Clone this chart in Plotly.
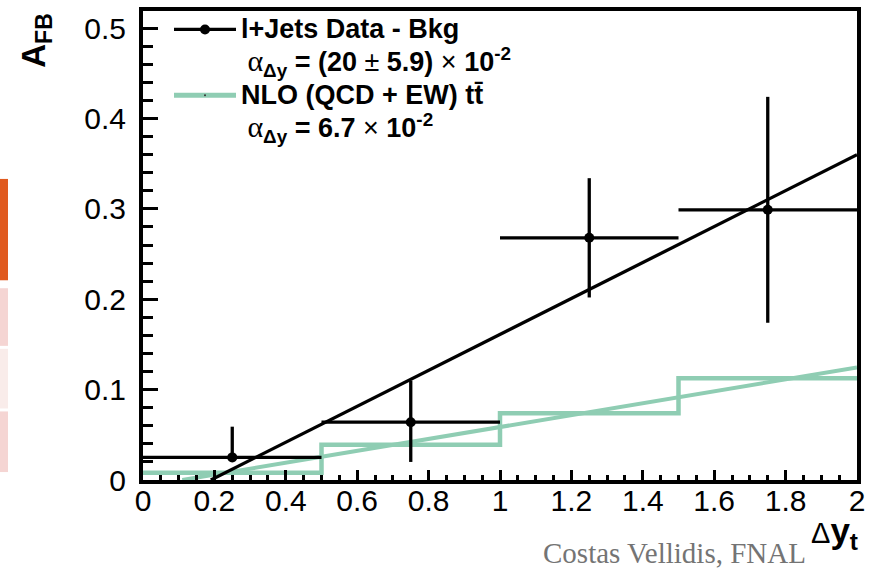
import plotly.graph_objects as go

# ---- data ----
data_x = [0.25, 0.75, 1.25, 1.75]
data_y = [0.025, 0.064, 0.268, 0.299]
data_xerr = [0.25, 0.25, 0.25, 0.25]
data_yerr_plus = [0.034, 0.046, 0.066, 0.125]
data_yerr_minus = [0.0, 0.044, 0.066, 0.125]

nlo_edges = [0.0, 0.5, 1.0, 1.5, 2.0]
nlo_values = [0.008, 0.039, 0.074, 0.1125]

data_fit_x = [0.19, 2.0]
data_fit_y = [0.0, 0.36]
nlo_fit_x = [0.11, 2.0]
nlo_fit_y = [0.0, 0.1245]

x_tickvals = [0, 0.2, 0.4, 0.6, 0.8, 1.0, 1.2, 1.4, 1.6, 1.8, 2.0]
x_ticktext = ["0", "0.2", "0.4", "0.6", "0.8", "1", "1.2", "1.4", "1.6", "1.8", "2"]
y_tickvals = [0, 0.1, 0.2, 0.3, 0.4, 0.5]
y_ticktext = ["0", "0.1", "0.2", "0.3", "0.4", "0.5"]

TEAL = "#8fcdb3"
FONT = "Liberation Sans"

fig = go.Figure()

# NLO histogram (step)
fig.add_trace(go.Scatter(
    x=nlo_edges, y=nlo_values + [nlo_values[-1]],
    mode="lines", line=dict(color=TEAL, width=4.5, shape="hv"),
    showlegend=False, hoverinfo="skip"))
# NLO fit
fig.add_trace(go.Scatter(
    x=nlo_fit_x, y=nlo_fit_y, mode="lines",
    line=dict(color=TEAL, width=4), showlegend=False))
# data
fig.add_trace(go.Scatter(
    x=data_x, y=data_y, mode="markers",
    marker=dict(color="black", size=10),
    error_x=dict(type="data", array=data_xerr, color="black", thickness=3.3, width=0),
    error_y=dict(type="data", array=data_yerr_plus, arrayminus=data_yerr_minus,
                 symmetric=False, color="black", thickness=3.3, width=0),
    showlegend=False))
# data fit
fig.add_trace(go.Scatter(
    x=data_fit_x, y=data_fit_y, mode="lines",
    line=dict(color="black", width=3.3), showlegend=False))

# legend entries
SER = "<span style='font-family:Liberation Serif;font-size:30px'>α</span>"
BIG = "<span style='font-size:27px'>"
leg_names = [
    BIG + "<b>l+Jets Data - Bkg</b></span>",
    "\u00a0" + SER + BIG + "<sub><b>Δy</b></sub><b> = (20 </b>±<b> 5.9) </b>×<b> 10<sup>-2</sup></b></span>",
    BIG + "<b>NLO (QCD + EW) tt\u0304</b></span>",
    "\u00a0" + SER + BIG + "<sub><b>Δy</b></sub><b> = 6.7 </b>×<b> 10<sup>-2</sup></b></span>",
]
fig.add_trace(go.Scatter(x=[None], y=[None], mode="lines+markers", name=leg_names[0],
                         line=dict(color="black", width=3.3), marker=dict(color="black", size=10)))
fig.add_trace(go.Scatter(x=[None], y=[None], mode="lines", name=leg_names[1],
                         line=dict(color="rgba(0,0,0,0)", width=0)))
fig.add_trace(go.Scatter(x=[None], y=[None], mode="lines+markers", name=leg_names[2],
                         line=dict(color=TEAL, width=5), marker=dict(color="#333", size=2)))
fig.add_trace(go.Scatter(x=[None], y=[None], mode="lines", name=leg_names[3],
                         line=dict(color="rgba(0,0,0,0)", width=0)))

L, R, T, B = 143, 25, 8, 92
W, H = 882, 572
pw, ph = W - L - R, H - T - B

def px(x):
    return (x - L) / pw

def py(y):
    return (H - B - y) / ph

axis_common = dict(showline=True, linecolor="black", linewidth=4, mirror=True,
                   ticks="inside", tickcolor="black", showgrid=False, zeroline=False,
                   tickfont=dict(family=FONT, size=30, color="black"))

fig.update_layout(
    width=W, height=H,
    margin=dict(l=L, r=R, t=T, b=B),
    paper_bgcolor="white", plot_bgcolor="white",
    font=dict(family=FONT, color="black"),
    xaxis=dict(range=[0, 2], tickvals=x_tickvals, ticktext=x_ticktext,
               ticklen=10, tickwidth=3, ticklabelstandoff=-9,
               minor=dict(dtick=0.05, ticklen=5, tickwidth=3, ticks="inside", tickcolor="black"),
               **axis_common),
    yaxis=dict(range=[0, 0.519], tickvals=y_tickvals, ticktext=y_ticktext,
               ticklen=15, tickwidth=3, ticklabelstandoff=7,
               minor=dict(dtick=0.02, ticklen=10, tickwidth=3, ticks="inside", tickcolor="black"),
               **axis_common),
    legend=dict(x=px(169), y=py(5), xanchor="left", yanchor="top",
                bgcolor="rgba(0,0,0,0)", itemwidth=62,
                font=dict(family=FONT, size=23, color="black"),
                tracegroupgap=0),
    showlegend=True,
)

fig.add_annotation(xref="paper", yref="paper", x=px(36), y=py(38),
                   text="<b>A<sub>FB</sub></b>", textangle=-90, showarrow=False,
                   xanchor="center", yanchor="middle",
                   font=dict(family=FONT, size=33, color="black"))
fig.add_annotation(xref="paper", yref="paper", x=px(860), y=py(533),
                   text="<span style='font-size:29px'>Δ</span><b>y<sub>t</sub></b>",
                   showarrow=False, xanchor="right", yanchor="middle",
                   font=dict(family=FONT, size=35, color="black"))
fig.add_annotation(xref="paper", yref="paper", x=px(541), y=py(553),
                   text="Costas Vellidis, FNAL", showarrow=False,
                   xanchor="left", yanchor="middle",
                   font=dict(family="Liberation Serif", size=29, color="#747474"))

# slide decoration strips at left edge
strips = [(177, 279, "#e05a1f"), (287, 345, "#f5d5d3"), (348, 408, "#f9ecea"), (411, 472, "#f5d5d3")]
for y0, y1, c in strips:
    fig.add_shape(type="rect", xref="paper", yref="paper",
                  x0=px(0), x1=px(8), y0=py(y1), y1=py(y0),
                  fillcolor=c, line=dict(width=0), layer="below")

fig.write_html("out.html", config={"displayModeBar": False},
               post_script="document.body.style.margin='0px';")
